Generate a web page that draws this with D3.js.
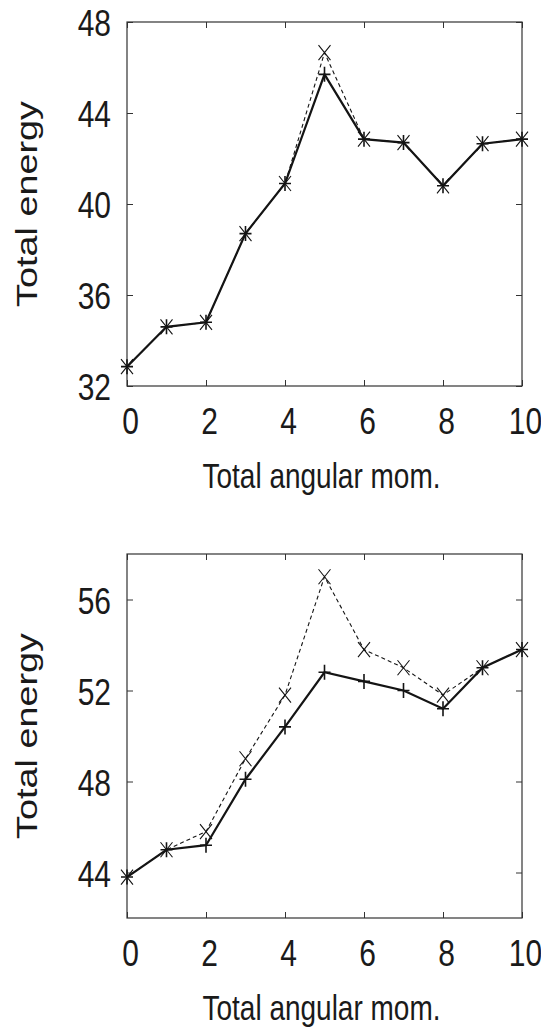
<!DOCTYPE html>
<html>
<head>
<meta charset="utf-8">
<script src="https://cdn.jsdelivr.net/npm/d3@7"></script>
<style>
  html, body { margin: 0; padding: 0; background: #fff; }
  svg { display: block; }
  text { font-family: "Liberation Sans", Arial, Helvetica, sans-serif; fill: #1a1a1a; }
</style>
</head>
<body>
<script>
// Total angular momentum values on the horizontal axis
const angMom = [0, 1, 2, 3, 4, 5, 6, 7, 8, 9, 10];
const xTicks = [0, 2, 4, 6, 8, 10];

// Upper panel energies
const upperSolid  = [32.85, 34.6, 34.8, 38.7, 40.9, 45.7, 42.85, 42.7, 40.8, 42.65, 42.85];
const upperDashed = [32.85, 34.6, 34.8, 38.7, 40.9, 46.65, 42.85, 42.7, 40.8, 42.65, 42.85];
const upperDomain = [32, 48];
const upperTicks  = [32, 36, 40, 44, 48];

// Lower panel energies
const lowerSolid  = [43.8, 45.0, 45.2, 48.1, 50.4, 52.8, 52.4, 52.0, 51.2, 53.0, 53.8];
const lowerDashed = [43.8, 45.0, 45.8, 49.0, 51.8, 57.0, 53.8, 53.0, 51.8, 53.0, 53.8];
const lowerDomain = [42, 58];
const lowerTicks  = [44, 48, 52, 56];

const xTitle = "Total angular mom.";
const yTitle = "Total energy";

const W = 541, H = 1035;
const STRETCH = 1.26;   // vertical elongation of the lettering
const INK = "#141414";

const svg = d3.select("body").append("svg")
  .attr("width", W).attr("height", H)
  .attr("viewBox", `0 0 ${W} ${H}`);

function panel(top, solid, dashed, domain, yTicks) {
  const left = 127, right = 522, bottom = top + 364;
  const x = d3.scaleLinear().domain([0, 10]).range([left, right]);
  const y = d3.scaleLinear().domain(domain).range([bottom, top]);
  const g = svg.append("g");

  // inward ticks on all four sides
  const tickLen = 6;
  const yAxis = g.append("g").attr("transform", `translate(${left},0)`)
    .call(d3.axisLeft(y).tickValues(yTicks).tickSizeInner(-tickLen).tickSizeOuter(0).tickPadding(16));
  g.append("g").attr("transform", `translate(${right},0)`)
    .call(d3.axisRight(y).tickValues(yTicks).tickSizeInner(-tickLen).tickSizeOuter(0).tickFormat(""));
  const xAxis = g.append("g").attr("transform", `translate(0,${bottom})`)
    .call(d3.axisBottom(x).tickValues(xTicks).tickSizeInner(-tickLen).tickSizeOuter(0));
  g.append("g").attr("transform", `translate(0,${top})`)
    .call(d3.axisTop(x).tickValues(xTicks).tickSizeInner(-tickLen).tickSizeOuter(0).tickFormat(""));

  g.selectAll(".domain").remove();
  g.selectAll(".tick line").attr("stroke", "#333").attr("stroke-width", 1);

  yAxis.selectAll("text")
    .attr("x", null).attr("dy", null)
    .attr("transform", `translate(-16,0) scale(1,${STRETCH})`)
    .attr("dy", "0.36em")
    .style("font-size", "30px").style("fill", "#1a1a1a");
  xAxis.selectAll("text")
    .attr("y", null).attr("dy", null)
    .attr("transform", `translate(3,34) scale(1,${STRETCH})`)
    .attr("dy", "0.36em")
    .style("font-size", "30px").style("fill", "#1a1a1a");

  // frame
  g.append("rect")
    .attr("x", left).attr("y", top)
    .attr("width", right - left).attr("height", bottom - top)
    .attr("fill", "none").attr("stroke", "#333").attr("stroke-width", 1.2);

  const line = d3.line().x((d, i) => x(angMom[i])).y(d => y(d));

  g.append("path").datum(dashed)
    .attr("d", line).attr("fill", "none")
    .attr("stroke", INK).attr("stroke-width", 1.1)
    .attr("stroke-dasharray", "4,3");
  g.append("path").datum(solid)
    .attr("d", line).attr("fill", "none")
    .attr("stroke", INK).attr("stroke-width", 2.2);

  // cross markers for the dashed series
  const hx = 6, hy = 7.5;
  g.append("g").selectAll("path").data(dashed).join("path")
    .attr("d", (d, i) => {
      const cx = x(angMom[i]), cy = y(d);
      return `M${cx - hx},${cy - hy}L${cx + hx},${cy + hy}M${cx - hx},${cy + hy}L${cx + hx},${cy - hy}`;
    })
    .attr("stroke", INK).attr("stroke-width", 1.1).attr("fill", "none");
  // plus markers for the solid series
  g.append("g").selectAll("path").data(solid).join("path")
    .attr("d", (d, i) => {
      const cx = x(angMom[i]), cy = y(d);
      return `M${cx - hx},${cy}L${cx + hx},${cy}M${cx},${cy - hy}L${cx},${cy + hy}`;
    })
    .attr("stroke", INK).attr("stroke-width", 1.6).attr("fill", "none");

  // axis titles
  g.append("text")
    .attr("transform", `translate(${(left + right) / 2 - 3},${bottom + 102}) scale(1,${STRETCH})`)
    .attr("text-anchor", "middle")
    .style("font-size", "28px")
    .text(xTitle);
  g.append("text")
    .attr("transform", `translate(37,${(top + bottom) / 2}) scale(1,${STRETCH}) rotate(-90)`)
    .attr("text-anchor", "middle")
    .style("font-size", "30px")
    .text(yTitle);
}

panel(22, upperSolid, upperDashed, upperDomain, upperTicks);
panel(554, lowerSolid, lowerDashed, lowerDomain, lowerTicks);
</script>
</body>
</html>
